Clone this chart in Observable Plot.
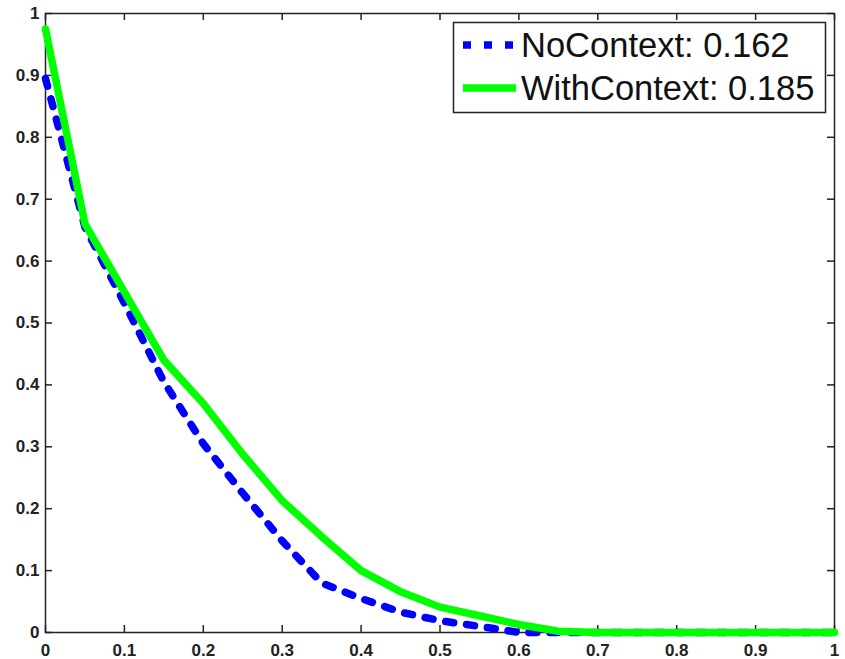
<!DOCTYPE html>
<html>
<head>
<meta charset="utf-8">
<script src="https://cdn.jsdelivr.net/npm/d3@7"></script>
<script src="https://cdn.jsdelivr.net/npm/@observablehq/plot@0.6"></script>
<style>
  html, body { margin: 0; padding: 0; background: #fff; }
  #wrap { position: relative; width: 845px; height: 659px; overflow: hidden; }
  #legend { position: absolute; left: 0; top: 0; }
</style>
</head>
<body>
<div id="wrap"></div>
<script>
// ---- data ----
const recall = [0, 0.05, 0.1, 0.15, 0.2, 0.25, 0.3, 0.35, 0.4, 0.45, 0.5, 0.55, 0.6, 0.65, 0.7, 0.75, 0.8, 0.85, 0.9, 0.95, 1];
const noContext   = [0.895, 0.655, 0.532, 0.405, 0.305, 0.225, 0.148, 0.08, 0.055, 0.033, 0.019, 0.01, 0.0, 0, 0, 0, 0, 0, 0, 0, 0];
const withContext = [0.975, 0.66, 0.55, 0.44, 0.37, 0.288, 0.213, 0.155, 0.10, 0.066, 0.041, 0.027, 0.013, 0.002, 0, 0, 0, 0, 0, 0, 0];
const seriesNames = ["NoContext", "WithContext"];
const seriesScores = ["0.162", "0.185"];
const xTicks = [0, 0.1, 0.2, 0.3, 0.4, 0.5, 0.6, 0.7, 0.8, 0.9, 1];
const yTicks = [0, 0.1, 0.2, 0.3, 0.4, 0.5, 0.6, 0.7, 0.8, 0.9, 1];
const tickLabels = ["0", "0.1", "0.2", "0.3", "0.4", "0.5", "0.6", "0.7", "0.8", "0.9", "1"];

const seriesA = recall.map((r, i) => ({x: r, y: noContext[i]}));
const seriesB = recall.map((r, i) => ({x: r, y: withContext[i]}));

const W = 845, H = 659;
const mL = 45, mR = 11, mT = 13, mB = 27;
const innerH = H - mT - mB;
const innerW = W - mL - mR;
const tk = 7;
const fmt = d => tickLabels[xTicks.indexOf(d)] ?? String(d);

const chart = Plot.plot({
  width: W,
  height: H,
  marginLeft: mL,
  marginRight: mR,
  marginTop: mT,
  marginBottom: mB,
  style: {fontFamily: "'Liberation Sans', Arial, Helvetica, sans-serif", fontSize: "17px", fontWeight: "bold", color: "#222", background: "#fff"},
  x: {domain: [0, 1]},
  y: {domain: [0, 1]},
  marks: [
    Plot.axisX(xTicks, {anchor: "bottom", tickSize: 0, tickPadding: 11, tickFormat: fmt, label: null}),
    Plot.axisY(yTicks, {anchor: "left", tickSize: 0, tickPadding: 6, tickFormat: fmt, label: null}),
    // inward ticks on all four sides
    Plot.tickX(xTicks, {x: d => d, insetTop: innerH - tk, stroke: "#222", strokeWidth: 1.5}),
    Plot.tickX(xTicks, {x: d => d, insetBottom: innerH - tk, stroke: "#222", strokeWidth: 1.5}),
    Plot.tickY(yTicks, {y: d => d, insetRight: innerW - tk, stroke: "#222", strokeWidth: 1.5}),
    Plot.tickY(yTicks, {y: d => d, insetLeft: innerW - tk, stroke: "#222", strokeWidth: 1.5}),
    Plot.frame({stroke: "#222", strokeWidth: 1.5}),
    Plot.line(seriesA, {x: "x", y: "y", stroke: "#0000ff", strokeWidth: 7.5, strokeDasharray: "8,13", strokeLinejoin: "miter"}),
    Plot.line(seriesB, {x: "x", y: "y", stroke: "#00ff00", strokeWidth: 7.5})
  ]
});
document.getElementById("wrap").appendChild(chart);

// ---- legend overlay ----
const leg = d3.select("#wrap").append("svg")
  .attr("id", "legend")
  .attr("width", W).attr("height", H);
leg.append("rect")
  .attr("x", 453.5).attr("y", 22.5).attr("width", 372).attr("height", 90)
  .attr("fill", "#fff").attr("stroke", "#222").attr("stroke-width", 1.5);
const styles = [
  {stroke: "#0000ff", dash: "8,13"},
  {stroke: "#00ff00", dash: null}
];
seriesNames.forEach((name, i) => {
  const cy = 45 + i * 43;
  const ln = leg.append("line")
    .attr("x1", 463).attr("x2", 516).attr("y1", cy).attr("y2", cy)
    .attr("stroke", styles[i].stroke).attr("stroke-width", 7.5);
  if (styles[i].dash) ln.attr("stroke-dasharray", styles[i].dash);
  leg.append("text")
    .attr("x", 521).attr("y", cy + 12)
    .attr("font-family", "'Liberation Sans', Arial, Helvetica, sans-serif")
    .attr("font-size", 34.5)
    .attr("fill", "#111")
    .text(`${name}: ${seriesScores[i]}`);
});
</script>
</body>
</html>
